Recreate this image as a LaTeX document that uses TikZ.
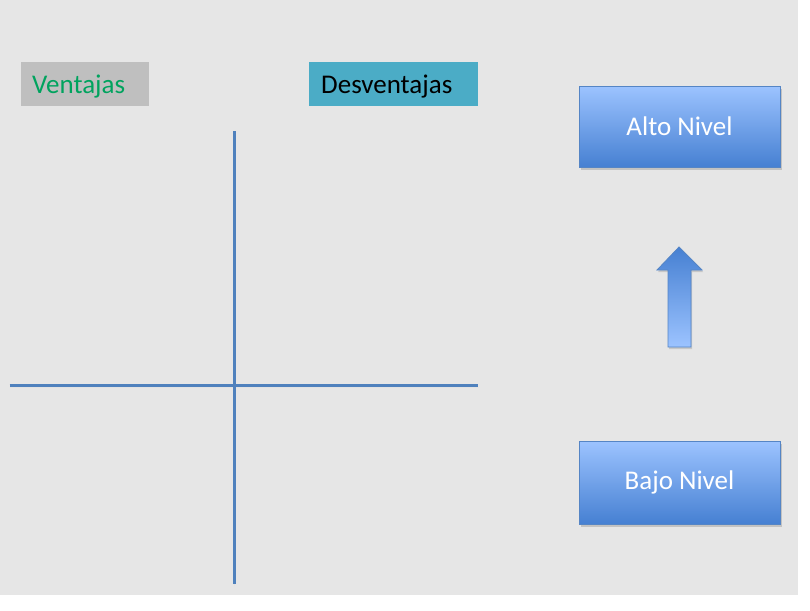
\documentclass[tikz,border=0pt]{standalone}
\usepackage{fontspec}
\setmainfont{Carlito}
\usetikzlibrary{shadows}
\definecolor{bggray}{HTML}{E6E6E6}
\definecolor{vbox}{HTML}{BFBFBF}
\definecolor{vtext}{HTML}{00A35E}
\definecolor{dbox}{HTML}{4BACC6}
\definecolor{axis}{HTML}{4F81BD}
\definecolor{gtop}{HTML}{9CC3FF}
\definecolor{gbot}{HTML}{4680D2}
\definecolor{bord}{HTML}{5585C5}
\tikzset{
  lbl/.style={inner sep=0pt, font=\fontsize{27}{32}\selectfont},
  axisline/.style={draw=axis, line width=3pt,
    drop shadow={shadow xshift=0.5pt, shadow yshift=-2pt, opacity=0.25}},
  lvlbox/.style={draw=bord, line width=1pt, top color=gtop, bottom color=gbot,
    text=white, font=\fontsize{27}{32}\selectfont,
    drop shadow={shadow xshift=1.5pt, shadow yshift=-2.5pt, opacity=0.35}},
}
\begin{document}
\begin{tikzpicture}[x=1pt,y=-1pt]
\useasboundingbox (0,0) rectangle (810,610);
\fill[white] (0,0) rectangle (810,610);
\fill[bggray] (0,0) rectangle (798,595);
% header boxes
\fill[vbox] (21,62) rectangle (149,106);
\node[lbl, text=vtext, anchor=base west] (ven) at (32,93) {Ventajas};
\fill[dbox] (309,62) rectangle (478,106);
\node[lbl, text=black, anchor=base west] (des) at (321,93) {Desventajas};
% axes
\coordinate (vt) at (234,131);
\coordinate (vb) at (234,584);
\coordinate (hl) at (9.5,385.5);
\coordinate (hr) at (478,385.5);
\path[axisline] (hl) -- (hr);
\path[axisline] (vt) -- (vb);
% level boxes
\node[lvlbox, minimum width=201pt, minimum height=81pt] (alto) at (679.5,126.5) {Alto Nivel};
\node[lvlbox, minimum width=201pt, minimum height=83pt] (bajo) at (679.5,482.5) {Bajo Nivel};
% arrow
\path[draw=bord, line width=0.8pt, top color=gbot, bottom color=gtop,
  drop shadow={shadow xshift=1pt, shadow yshift=-2pt, opacity=0.3}]
  (679,247) -- (702,270) -- (691,270) -- (691,347) -- (668,347) -- (668,270) -- (657,270) -- cycle;
\end{tikzpicture}
\end{document}
